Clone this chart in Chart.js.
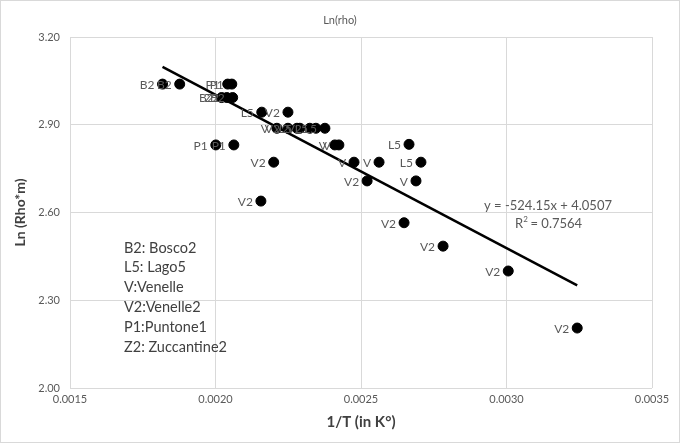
<!DOCTYPE html>
<html>
<head>
<meta charset="utf-8">
<script src="https://cdn.jsdelivr.net/npm/chart.js@4"></script>
<style>
  html, body { margin: 0; padding: 0; background: #fff; }
  #wrap { width: 680px; height: 443px; position: relative; }
</style>
</head>
<body>
<div id="wrap"><canvas id="grafico" width="680" height="443"></canvas></div>
<script>
// --- dati ---
const siti = ['B2','B2','P1','P1','B2','Z2','B2','L5','V2','V','V2','L5','V2','L5','L5','V2','P1','P1','V','V','L5','V2','V','V','L5','V2','V','V2','V2','V2','V2','V2'];
const invT = [0.001818,0.001877,0.002042,0.002056,0.002021,0.002039,0.002059,0.002159,0.002249,0.002211,0.002249,0.002290,0.002324,0.002345,0.002376,0.002280,0.002001,0.002063,0.002410,0.002424,0.002665,0.002200,0.002476,0.002562,0.002706,0.002521,0.002689,0.002156,0.002648,0.002782,0.003006,0.003243];
const lnRho = [3.039,3.039,3.039,3.039,2.993,2.993,2.993,2.943,2.943,2.888,2.888,2.888,2.888,2.888,2.888,2.888,2.831,2.831,2.831,2.831,2.833,2.772,2.772,2.772,2.772,2.708,2.708,2.639,2.565,2.485,2.400,2.205];

const xTicks = [0.0015, 0.0020, 0.0025, 0.0030, 0.0035];
const yTicks = [2.00, 2.30, 2.60, 2.90, 3.20];

const pendenza = -524.15;
const intercetta = 4.0507;
const r2 = 0.7564;

const legenda = ['B2: Bosco2', 'L5: Lago5', 'V:Venelle', 'V2:Venelle2', 'P1:Puntone1', 'Z2: Zuccantine2'];

// --- costruzione dataset ---
const punti = invT.map((x, i) => ({ x: x, y: lnRho[i] }));
const xMin = Math.min(...invT), xMax = Math.max(...invT);
const retta = [xMin, xMax].map(x => ({ x: x, y: pendenza * x + intercetta }));

const FONT = 'Lato, "Open Sans", sans-serif';

const decorazioni = {
  id: 'decorazioni',
  beforeDraw(chart) {
    const c = chart.ctx;
    c.save();
    c.fillStyle = '#fff';
    c.fillRect(0, 0, chart.width, chart.height);
    c.strokeStyle = '#d9d9d9';
    c.lineWidth = 1;
    c.strokeRect(0.5, 0.5, chart.width - 1, chart.height - 1);
    c.restore();
  },
  afterDatasetsDraw(chart) {
    const c = chart.ctx;
    c.save();
    // etichette dei punti
    c.font = '12px ' + FONT;
    c.fillStyle = '#595959';
    c.textAlign = 'right';
    c.textBaseline = 'middle';
    chart.getDatasetMeta(1).data.forEach((el, i) => {
      c.fillText(siti[i], el.x - 8, el.y + 1);
    });
    // titolo
    c.textAlign = 'center';
    c.font = '11px ' + FONT;
    c.fillText('Ln(rho)', 340, 20);
    // equazione
    c.font = '13px ' + FONT;
    c.fillText('y = ' + pendenza.toFixed(2) + 'x + ' + intercetta.toFixed(4), 548, 206);
    c.textAlign = 'left';
    const rx = 515, ry = 224;
    c.fillText('R', rx, ry);
    const w = c.measureText('R').width;
    c.font = '8px ' + FONT;
    c.fillText('2', rx + w, ry - 5);
    c.font = '13px ' + FONT;
    c.fillText(' = ' + r2.toFixed(4), rx + w + 4, ry);
    // legenda sigle
    c.font = '14.5px ' + FONT;
    c.fillStyle = '#404040';
    legenda.forEach((t, i) => c.fillText(t, 124, 248 + i * 19.8));
    c.restore();
  }
};

new Chart(document.getElementById('grafico'), {
  type: 'scatter',
  data: {
    datasets: [{
      type: 'line',
      data: retta,
      borderColor: '#000',
      borderWidth: 2.5,
      pointRadius: 0,
      fill: false
    }, {
      data: punti,
      backgroundColor: '#000',
      borderColor: '#000',
      pointRadius: 5,
      pointHoverRadius: 5
    }]
  },
  options: {
    responsive: false,
    animation: false,
    events: [],
    layout: { padding: { top: 37, right: 28, left: 0, bottom: 0 } },
    plugins: { legend: { display: false }, title: { display: false }, tooltip: { enabled: false } },
    scales: {
      x: {
        type: 'linear',
        min: xTicks[0],
        max: xTicks[xTicks.length - 1],
        afterBuildTicks: s => { s.ticks = xTicks.map(v => ({ value: v })); },
        afterFit: s => { s.height = 55; },
        ticks: { callback: v => v.toFixed(4), color: '#595959', font: { size: 11, family: FONT }, padding: 5 },
        grid: { color: '#d9d9d9', drawTicks: false },
        border: { display: false },
        title: { display: true, text: '1/T (in K°)', color: '#404040', font: { size: 15, weight: 'bold', family: FONT }, padding: { bottom: 12 } }
      },
      y: {
        min: yTicks[0],
        max: yTicks[yTicks.length - 1],
        afterBuildTicks: s => { s.ticks = yTicks.map(v => ({ value: v })); },
        afterFit: s => { s.width = 70; },
        ticks: { callback: v => v.toFixed(2), color: '#595959', font: { size: 11, family: FONT }, padding: 10 },
        grid: { color: '#d9d9d9', drawTicks: false },
        border: { display: false },
        title: { display: true, text: 'Ln (Rho*m)', color: '#404040', font: { size: 14, weight: 'bold', family: FONT }, padding: { top: 12 } }
      }
    }
  },
  plugins: [decorazioni]
});
</script>
</body>
</html>
